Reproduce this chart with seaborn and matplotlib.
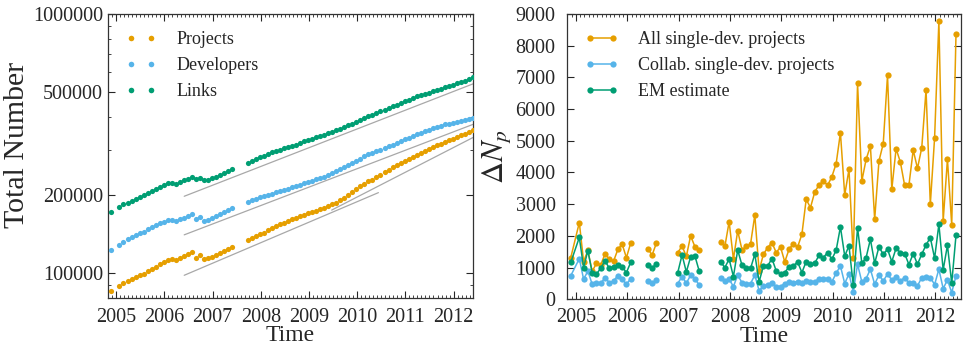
import matplotlib
matplotlib.use("Agg")
import matplotlib.pyplot as plt
from matplotlib.lines import Line2D
from matplotlib.ticker import (FixedLocator, FuncFormatter, LogLocator,
                               MultipleLocator, NullFormatter)
import numpy as np
import pandas as pd
import seaborn as sns

nan = np.nan

# Meses (nov 2004 - may 2012), una muestra por mes
meses = pd.period_range("2004-11", "2012-05", freq="M")

# --- Panel izquierdo: totales acumulados ---
proyectos = [
    85700, nan, 89500, 91600, 93500, 95200, 96900, 98300, 99800, 101800,
    103900, 106000, 108200, 110500, 112500, 113800, 113100, 114800, 116800, 118900,
    121000, 114800, 117500, 113800, 114500, 115800, 117900, 119900, 122100, 124200,
    126400, nan, nan, nan, 134800, 136800, 139200, 141600, 143700, 146700,
    149300, 151900, 154600, 156900, 159200, 161600, 164000, 166400, 168300, 170300,
    172300, 174400, 176900, 179000, 181700, 184400, 187600, 191500, 196000, 200600,
    206000, 210900, 216500, 221600, 226200, 229600, 235000, 240600, 246200, 251300,
    256500, 261800, 266500, 271200, 276000, 281700, 286600, 291700, 296900, 301300,
    306600, 312100, 316600, 321300, 326000, 330800, 335700, 340600, 345600, 350700,
    356900,
]
desarrolladores = [
    123500, nan, 129000, 132400, 135200, 137600, 140000, 142600, 145000, 148000,
    150600, 153300, 156000, 158300, 160200, 160700, 159200, 161600, 164000, 166800,
    169800, 161600, 165000, 159700, 160700, 163000, 165900, 168800, 171800, 174900,
    178000, nan, nan, nan, 188700, 191500, 194300, 196600, 198300, 200600,
    203000, 205400, 207800, 209700, 212100, 214600, 217100, 219700, 222300, 224900,
    227600, 230200, 233000, 236300, 239800, 244000, 248400, 252800, 257300, 261900,
    267200, 272000, 276800, 282500, 287500, 290900, 295200, 299600, 304800, 309300,
    313800, 319400, 324100, 328900, 333700, 338600, 343600, 348700, 353800, 358000,
    362200, 366500, 370800, 375100, 378400, 381700, 385100, 388500, 391900, 395400,
    398800,
]
enlaces = [
    171800, nan, 179500, 184400, 187600, 190400, 193700, 197100, 200600, 204800,
    208400, 212100, 215900, 219100, 222300, 223000, 221600, 225600, 229000, 232200,
    236300, 230200, 233600, 228300, 229600, 233000, 236300, 240600, 244800, 249100,
    252800, nan, nan, nan, 265700, 271200, 276000, 280000, 284100, 288300,
    292600, 296000, 299600, 303100, 306600, 310200, 313800, 318500, 323200, 327000,
    330800, 334700, 338600, 342600, 346700, 350700, 355900, 361100, 366500, 373000,
    378400, 385100, 391900, 398900, 404800, 409600, 415500, 421700, 427900, 434200,
    440600, 447100, 453600, 460300, 467100, 474000, 481000, 486600, 492400, 498100,
    503900, 509900, 515900, 522000, 528100, 534400, 540600, 547000, 553500, 561600,
    569800,
]

# Rectas de referencia (crecimiento exponencial): inicio, fin
guia_t0 = [2006.41, 2006.41, 2006.41, 2009.47]
guia_t1 = [2012.40, 2012.40, 2010.44, 2012.40]
guia_v0 = [198300, 140800, 98300, 175400]
guia_v1 = [537800, 375300, 204800, 333900]

# --- Panel derecho: nuevos proyectos por mes ---
todos_single = [
    1310, nan, 2420, 1190, 1540, 880, 1130, 1080, 1430, 1260,
    1200, 1570, 1740, 1310, 1770, nan, nan, nan, 1600, 1390,
    1770, nan, nan, nan, nan, 1470, 1680, 1350, 2000, 1660,
    1555, nan, nan, nan, nan, 1810, 1665, 2445, 1265, 2160,
    1560, 1665, 1740, 2655, 893, 1419, 1629, 1787, 1471, 1650,
    1177, 1577, 1755, 1650, 2049, 3153, 2890, 3384, 3605, 3731,
    3594, 3868, 4278, 5255, 3290, 4099, 1314, 6810, 3731, 4414,
    4835, 2522, 4362, 4908, 7063, 3468, 4750, 4330, 3594, 3594,
    4708, 4130, 4782, 6600, 2995, 5097, 8776, 2470, 4414, 2344,
    8376,
]
colab_single = [
    740, nan, 1280, 630, 890, 470, 525, 500, 680, 525,
    580, 740, 630, 470, 650, nan, nan, nan, 580, 505,
    600, nan, nan, nan, nan, 495, 716, 505, 757, 653,
    442, nan, nan, nan, nan, 665, 560, 630, 400, 760,
    525, 495, 495, 760, 270, 420, 452, 526, 400, 400,
    494, 557, 526, 557, 526, 578, 557, 557, 631, 652,
    652, 547, 820, 1051, 494, 800, 231, 1104, 547, 652,
    946, 473, 767, 578, 788, 610, 704, 578, 683, 505,
    505, 420, 683, 715, 683, 462, 946, 336, 610, 210,
    736,
]
estimacion_em = [
    1160, nan, 1950, 1000, 1530, 840, 790, 980, 1210, 980,
    1020, 1080, 1030, 840, 1160, nan, nan, nan, 1085, 1000,
    1105, nan, nan, nan, nan, 842, 1398, 861, 1335, 1366,
    893, nan, nan, nan, nan, 1180, 1000, 1265, 715, 1550,
    1075, 1000, 970, 1420, 547, 1051, 1051, 1282, 893, 788,
    841, 1030, 1051, 1177, 841, 1188, 1104, 1135, 1387, 1314,
    1471, 1261, 1545, 2281, 1366, 1682, 441, 2260, 1135, 1314,
    1892, 1135, 1650, 1419, 1577, 1188, 1608, 1471, 1440, 1093,
    1440, 1104, 1419, 1713, 1944, 1293, 2365, 925, 1703, 505,
    2018,
]

NARANJA = "#E69F00"
CELESTE = "#56B4E9"
VERDE = "#009E73"


def tiempo():
    """Año decimal de cada mes (punto cerca del final del mes)."""
    return np.asarray(meses.year + (meses.month - 0.2) / 12.0, dtype=float)


def tramos(valores):
    """Tabla con los puntos válidos y un id de tramo (se corta en huecos > 2 meses)."""
    df = pd.DataFrame({"t": tiempo(), "idx": np.arange(len(meses)), "v": valores})
    df = df.dropna()
    df["tramo"] = (df["idx"].diff() > 2).cumsum()
    return df


def estilo_ejes(ax):
    ax.tick_params(which="both", direction="in", top=True, right=True,
                   labelsize=14.5)
    ax.tick_params(axis="x", which="major", pad=6.5)
    ax.tick_params(which="major", length=5, width=0.8)
    ax.tick_params(which="minor", length=2.5, width=0.6)
    for s in ax.spines.values():
        s.set_linewidth(0.9)
        s.set_color("#333333")
    ax.xaxis.set_major_locator(MultipleLocator(1))
    ax.xaxis.set_minor_locator(MultipleLocator(1 / 12))
    ax.xaxis.set_major_formatter(FuncFormatter(lambda v, p: f"{int(round(v))}"))


def panel_totales(ax):
    t = tiempo()
    series = [(proyectos, NARANJA, "Projects"),
              (desarrolladores, CELESTE, "Developers"),
              (enlaces, VERDE, "Links")]
    for t0, t1, v0, v1 in zip(guia_t0, guia_t1, guia_v0, guia_v1):
        ax.plot([t0, t1], [v0, v1], color="#a8a8a8", lw=0.9, zorder=1)
    handles = []
    for vals, c, nombre in series:
        sns.scatterplot(x=t, y=vals, color=c, s=14, linewidth=0, ax=ax,
                        zorder=3)
        handles.append(Line2D([], [], ls="", marker="o", ms=4, mew=0,
                              color=c, label=nombre))
    ax.set_yscale("log")
    ax.set_ylim(80000, 1000000)
    ax.set_xlim(2004.83, 2012.40)
    estilo_ejes(ax)
    ax.yaxis.set_major_locator(FixedLocator([100000, 200000, 500000, 1000000]))
    ax.yaxis.set_major_formatter(FuncFormatter(lambda v, p: f"{int(v)}"))
    ax.yaxis.set_minor_locator(LogLocator(base=10, subs=np.arange(2, 10)))
    ax.yaxis.set_minor_formatter(NullFormatter())
    ax.set_xlabel("Time", fontsize=17, labelpad=-1)
    ax.set_ylabel("Total Number", fontsize=21.5, labelpad=2, y=0.54)
    ax.legend(handles=handles, loc="upper left", frameon=False, numpoints=2,
              fontsize=13, handlelength=1.75, handletextpad=1.1,
              labelspacing=0.5, borderaxespad=0.55)


def panel_nuevos(ax):
    series = [(todos_single, NARANJA, "All single-dev. projects"),
              (colab_single, CELESTE, "Collab. single-dev. projects"),
              (estimacion_em, VERDE, "EM estimate")]
    handles = []
    for vals, c, nombre in series:
        df = tramos(vals)
        sns.lineplot(data=df, x="t", y="v", units="tramo", estimator=None,
                     sort=False, color=c, lw=1.1, marker="o", markersize=4.5,
                     markeredgewidth=0, ax=ax)
        handles.append(Line2D([], [], color=c, lw=1.1, marker="o", ms=4.5,
                              mew=0, label=nombre))
    ax.set_xlim(2004.835, 2012.50)
    ax.set_ylim(0, 9000)
    estilo_ejes(ax)
    # etiquetas del eje y algo separadas para que el "0" no pise al "2005"
    ax.tick_params(axis="y", which="major", pad=8.5)
    ax.yaxis.set_major_locator(MultipleLocator(1000))
    ax.set_xlabel("Time", fontsize=17, labelpad=-1)
    ax.set_ylabel(r"$\Delta N_p$", fontsize=22, labelpad=2)
    ax.legend(handles=handles, loc="upper left", frameon=False, numpoints=2,
              fontsize=13, handlelength=1.9, handletextpad=1.05,
              labelspacing=0.5, borderaxespad=0.55)


def main():
    sns.set_style("ticks")
    plt.rcParams["font.family"] = ["Liberation Serif", "DejaVu Serif"]
    plt.rcParams["mathtext.fontset"] = "stix"

    fig = plt.figure(figsize=(9.65, 3.52), dpi=100)
    ax1 = fig.add_axes([0.112, 0.152, 0.378, 0.808])
    ax2 = fig.add_axes([0.588, 0.150, 0.408, 0.810])
    panel_totales(ax1)
    panel_nuevos(ax2)
    fig.savefig("out.png", dpi=100)
    plt.close(fig)


if __name__ == "__main__":
    main()
